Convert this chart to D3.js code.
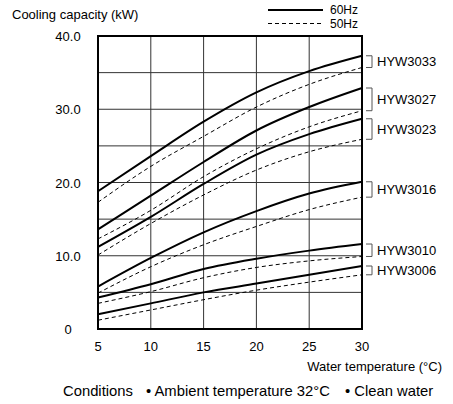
<!DOCTYPE html>
<html>
<head>
<meta charset="utf-8">
<script src="https://cdn.jsdelivr.net/npm/d3@7"></script>
<style>
  body { margin: 0; background: #fff; }
  svg { font-family: "Liberation Sans", Arial, sans-serif; }
</style>
</head>
<body>
<svg id="canvas" width="453" height="404"></svg>
<script>
// water temperature (C)
let temps = [5, 10, 15, 20, 25, 30];
let models = ['HYW3033', 'HYW3027', 'HYW3023', 'HYW3016', 'HYW3010', 'HYW3006'];

// cooling capacity (kW), one row per model, same order as models
let cap60 = [
	[18.8, 23.6, 28.3, 32.3, 35.2, 37.3],
	[13.6, 18.2, 22.8, 27.1, 30.3, 32.9],
	[11.2, 15.3, 19.8, 23.8, 26.6, 28.7],
	[5.8, 9.7, 13.2, 16.1, 18.5, 20.1],
	[4.3, 6.1, 8.2, 9.6, 10.7, 11.6],
	[2.0, 3.5, 5.0, 6.2, 7.4, 8.6]
];
let cap50 = [
	[17.3, 22.2, 26.3, 30.3, 33.4, 35.7],
	[12.3, 16.2, 20.8, 24.6, 27.6, 29.8],
	[10.1, 14.4, 18.3, 21.7, 24.2, 25.9],
	[4.9, 8.5, 11.5, 14.0, 16.3, 18.0],
	[3.5, 5.1, 7.0, 8.4, 9.3, 9.9],
	[1.2, 2.6, 4.0, 5.3, 6.4, 7.4]
];

let yTicks = [0, 10, 20, 30, 40];
let yTickLabels = ['0', '10.0', '20.0', '30.0', '40.0'];
let xTicks = [5, 10, 15, 20, 25, 30];

let canvas = d3.select('#canvas');

let x = d3.scaleLinear().domain([5, 30]).range([98, 362]);
let y = d3.scaleLinear().domain([0, 40]).range([329, 36]);

// grid
let grid = canvas.append('g');
grid.selectAll('.vg')
	.data(d3.range(5, 31, 5))
	.enter()
	.append('line')
	.attr('x1', (d) => x(d)).attr('x2', (d) => x(d))
	.attr('y1', y(0)).attr('y2', y(40))
	.attr('stroke', '#333').attr('stroke-width', 1);
grid.selectAll('.hg')
	.data(d3.range(0, 41, 5))
	.enter()
	.append('line')
	.attr('x1', x(5)).attr('x2', x(30))
	.attr('y1', (d) => y(d)).attr('y2', (d) => y(d))
	.attr('stroke', '#333').attr('stroke-width', 1);

canvas.append('rect')
	.attr('x', x(5)).attr('y', y(40))
	.attr('width', x(30) - x(5)).attr('height', y(0) - y(40))
	.attr('fill', 'none').attr('stroke', '#000').attr('stroke-width', 2);

// curves
let line = d3.line()
	.x((d, i) => x(temps[i]))
	.y((d) => y(d))
	.curve(d3.curveMonotoneX);

canvas.selectAll('.c50')
	.data(cap50)
	.enter()
	.append('path')
	.attr('d', line)
	.attr('fill', 'none')
	.attr('stroke', '#000')
	.attr('stroke-width', 1)
	.attr('stroke-dasharray', '4,3');

canvas.selectAll('.c60')
	.data(cap60)
	.enter()
	.append('path')
	.attr('d', line)
	.attr('fill', 'none')
	.attr('stroke', '#000')
	.attr('stroke-width', 2);

// model brackets + labels
models.forEach((m, i) => {
	let top = y(cap60[i][5]);
	let bot = y(cap50[i][5]);
	canvas.append('path')
		.attr('d', `M366,${top}H372V${bot}H366`)
		.attr('fill', 'none')
		.attr('stroke', '#555')
		.attr('stroke-width', 1);
	canvas.append('text')
		.attr('x', 377)
		.attr('y', (top + bot) / 2 + 4.5)
		.attr('font-size', 13)
		.text(m);
});

// axis labels
canvas.selectAll('.yl')
	.data(yTicks)
	.enter()
	.append('text')
	.attr('x', 68)
	.attr('y', (d) => y(d) + 5)
	.attr('text-anchor', 'middle')
	.attr('font-size', 13)
	.text((d, i) => yTickLabels[i]);

canvas.selectAll('.xl')
	.data(xTicks)
	.enter()
	.append('text')
	.attr('x', (d) => x(d))
	.attr('y', 351)
	.attr('text-anchor', 'middle')
	.attr('font-size', 13)
	.text((d) => d);

canvas.append('text')
	.attr('x', 12).attr('y', 19)
	.attr('font-size', 13)
	.text('Cooling capacity (kW)');

canvas.append('text')
	.attr('x', 442).attr('y', 371)
	.attr('text-anchor', 'end')
	.attr('font-size', 13)
	.text('Water temperature (\u00B0C)');

// legend
canvas.append('line')
	.attr('x1', 268).attr('x2', 323).attr('y1', 10).attr('y2', 10)
	.attr('stroke', '#000').attr('stroke-width', 2);
canvas.append('text')
	.attr('x', 330).attr('y', 14).attr('font-size', 12).text('60Hz');
canvas.append('line')
	.attr('x1', 268).attr('x2', 323).attr('y1', 23.5).attr('y2', 23.5)
	.attr('stroke', '#000').attr('stroke-width', 1)
	.attr('stroke-dasharray', '4,3');
canvas.append('text')
	.attr('x', 330).attr('y', 27.5).attr('font-size', 12).text('50Hz');

// conditions
let cond = canvas.append('g').attr('font-size', 14.8);
cond.append('text').attr('x', 63).attr('y', 396).text('Conditions');
cond.append('text').attr('x', 146).attr('y', 396).text('\u2022 Ambient temperature 32\u00B0C');
cond.append('text').attr('x', 345).attr('y', 396).text('\u2022 Clean water');
</script>
</body>
</html>
